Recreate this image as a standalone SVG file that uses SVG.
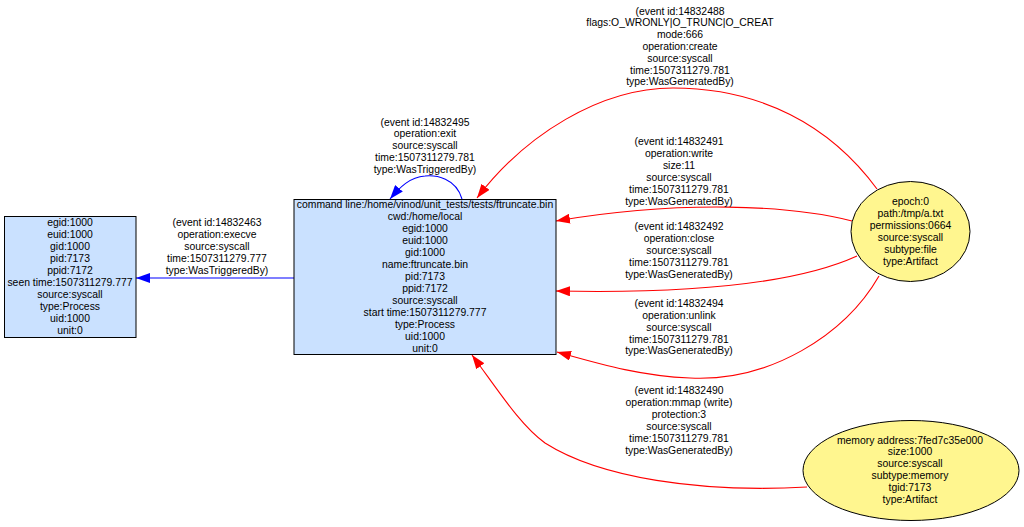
<svg xmlns="http://www.w3.org/2000/svg" width="1024" height="527" viewBox="0 0 1024 527">
<style>
text{font-family:"Liberation Sans",Arial,sans-serif;font-size:10.4px;fill:#000;text-anchor:middle}
.proc{fill:#cae1ff;stroke:#000;stroke-width:1}
.art{fill:#fff68f;stroke:#000;stroke-width:1}
.r{fill:none;stroke:#ff0000;stroke-width:1.1}
.b{fill:none;stroke:#0000ff;stroke-width:1.1}
</style>
<defs>
<marker id="ar" markerWidth="14" markerHeight="10" refX="14" refY="5" orient="auto" markerUnits="userSpaceOnUse"><path d="M0,0 L14,5 L0,10 z" fill="#ff0000"/></marker>
<marker id="ab" markerWidth="14" markerHeight="10" refX="14" refY="5" orient="auto" markerUnits="userSpaceOnUse"><path d="M0,0 L14,5 L0,10 z" fill="#0000ff"/></marker>
</defs>
<rect width="1024" height="527" fill="#fff"/>
<g id="connectors">
<path class="b" d="M294,278 L136,278" marker-end="url(#ab)"/>
<path class="b" d="M462,199 C456,178 436,175 425,176 C410,177 400,187 390,199" marker-end="url(#ab)"/>
<path class="r" d="M877,189 C830,125 760,88 673,88 C600,88 525,135 477,198" marker-end="url(#ar)"/>
<path class="r" d="M852,221 C790,205 680,200 556,221" marker-end="url(#ar)"/>
<path class="r" d="M857,256 C800,282 700,294 556,291" marker-end="url(#ar)"/>
<path class="r" d="M879,276 C845,335 770,382 690,378 C640,376 600,364 557,352" marker-end="url(#ar)"/>
<path class="r" d="M807,487 C700,493 600,478 545,443 C520,425 498,390 472,355" marker-end="url(#ar)"/>
<g id="label-execve">
<text x="217" y="225.5">(event id:14832463</text>
<text x="217" y="237.5">operation:execve</text>
<text x="217" y="249.5">source:syscall</text>
<text x="217" y="261.5">time:1507311279.777</text>
<text x="217" y="273.5">type:WasTriggeredBy)</text>
</g>
<g id="label-exit">
<text x="425" y="125.5">(event id:14832495</text>
<text x="425" y="137.3">operation:exit</text>
<text x="425" y="149.1">source:syscall</text>
<text x="425" y="160.9">time:1507311279.781</text>
<text x="425" y="172.7">type:WasTriggeredBy)</text>
</g>
<g id="label-create">
<text x="680" y="14.5">(event id:14832488</text>
<text x="680" y="26.3">flags:O_WRONLY|O_TRUNC|O_CREAT</text>
<text x="680" y="38.1">mode:666</text>
<text x="680" y="49.9">operation:create</text>
<text x="680" y="61.7">source:syscall</text>
<text x="680" y="73.5">time:1507311279.781</text>
<text x="680" y="85.3">type:WasGeneratedBy)</text>
</g>
<g id="label-write">
<text x="679" y="145.3">(event id:14832491</text>
<text x="679" y="157.2">operation:write</text>
<text x="679" y="169.1">size:11</text>
<text x="679" y="181">source:syscall</text>
<text x="679" y="192.9">time:1507311279.781</text>
<text x="679" y="204.8">type:WasGeneratedBy)</text>
</g>
<g id="label-close">
<text x="679" y="229.7">(event id:14832492</text>
<text x="679" y="241.7">operation:close</text>
<text x="679" y="253.7">source:syscall</text>
<text x="679" y="265.7">time:1507311279.781</text>
<text x="679" y="277.7">type:WasGeneratedBy)</text>
</g>
<g id="label-unlink">
<text x="679" y="306.8">(event id:14832494</text>
<text x="679" y="318.7">operation:unlink</text>
<text x="679" y="330.6">source:syscall</text>
<text x="679" y="342.5">time:1507311279.781</text>
<text x="679" y="354.4">type:WasGeneratedBy)</text>
</g>
<g id="label-mmap">
<text x="679" y="394.3">(event id:14832490</text>
<text x="679" y="406.2">operation:mmap (write)</text>
<text x="679" y="418.1">protection:3</text>
<text x="679" y="430">source:syscall</text>
<text x="679" y="441.9">time:1507311279.781</text>
<text x="679" y="453.8">type:WasGeneratedBy)</text>
</g>
</g>
<g id="node-parent">
<rect class="proc" x="4.5" y="216.5" width="131.5" height="121"/>
<text x="70" y="225.5">egid:1000</text>
<text x="70" y="237.5">euid:1000</text>
<text x="70" y="249.5">gid:1000</text>
<text x="70" y="261.5">pid:7173</text>
<text x="70" y="273.5">ppid:7172</text>
<text x="70" y="285.5">seen time:1507311279.777</text>
<text x="70" y="297.5">source:syscall</text>
<text x="70" y="309.5">type:Process</text>
<text x="70" y="321.5">uid:1000</text>
<text x="70" y="333.5">unit:0</text>
</g>
<g id="node-ftruncate">
<rect class="proc" x="294" y="199.5" width="262" height="155"/>
<text x="425" y="207.8">command line:/home/vinod/unit_tests/tests/ftruncate.bin</text>
<text x="425" y="219.8">cwd:/home/local</text>
<text x="425" y="231.8">egid:1000</text>
<text x="425" y="243.8">euid:1000</text>
<text x="425" y="255.8">gid:1000</text>
<text x="425" y="267.8">name:ftruncate.bin</text>
<text x="425" y="279.8">pid:7173</text>
<text x="425" y="291.8">ppid:7172</text>
<text x="425" y="303.8">source:syscall</text>
<text x="425" y="315.8">start time:1507311279.777</text>
<text x="425" y="327.8">type:Process</text>
<text x="425" y="339.8">uid:1000</text>
<text x="425" y="351.8">unit:0</text>
</g>
<g id="node-file">
<ellipse class="art" cx="910.5" cy="231.5" rx="59.5" ry="50"/>
<text x="910.5" y="205.2">epoch:0</text>
<text x="910.5" y="217.1">path:/tmp/a.txt</text>
<text x="910.5" y="229">permissions:0664</text>
<text x="910.5" y="240.9">source:syscall</text>
<text x="910.5" y="252.8">subtype:file</text>
<text x="910.5" y="264.7">type:Artifact</text>
</g>
<g id="node-memory">
<ellipse class="art" cx="911" cy="470.5" rx="108" ry="50"/>
<text x="910" y="443.5">memory address:7fed7c35e000</text>
<text x="910" y="455.4">size:1000</text>
<text x="910" y="467.3">source:syscall</text>
<text x="910" y="479.2">subtype:memory</text>
<text x="910" y="491.1">tgid:7173</text>
<text x="910" y="503">type:Artifact</text>
</g>
</svg>
